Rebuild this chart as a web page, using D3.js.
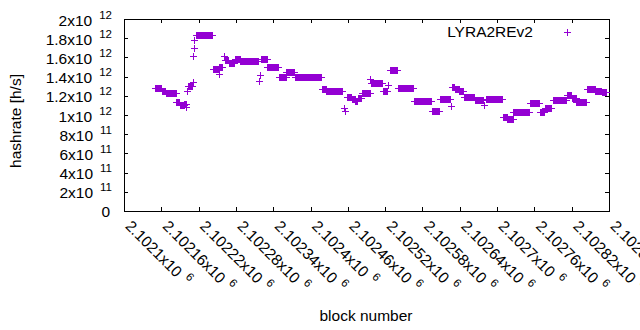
<!DOCTYPE html>
<html>
<head>
<meta charset="utf-8">
<script src="https://cdn.jsdelivr.net/npm/d3@7"></script>
<style>
  body { margin: 0; background: #fff; }
  svg { display: block; font-family: "Liberation Sans", Arial, sans-serif; }
</style>
</head>
<body>
<script>
// Series name shown in the key
const seriesName = "LYRA2REv2";

// Hashrate runs: every block from runStart to runEnd reports runRate (x 10^12 h/s)
const runStart = [2102151, 2102162, 2102168, 2102185, 2102191, 2102198, 2102201, 2102202, 2102203, 2102211,
  2102212, 2102213, 2102214, 2102217, 2102244, 2102253, 2102254, 2102261, 2102263, 2102269,
  2102279, 2102288, 2102318, 2102320, 2102321, 2102331, 2102350, 2102362, 2102376, 2102380,
  2102419, 2102426, 2102454, 2102456, 2102459, 2102467, 2102473, 2102477, 2102484, 2102497,
  2102498, 2102517, 2102526, 2102528, 2102541, 2102567, 2102596, 2102609, 2102627, 2102628,
  2102633, 2102640, 2102647, 2102665, 2102679, 2102683, 2102710, 2102717, 2102727, 2102753,
  2102770, 2102778, 2102790, 2102813, 2102821, 2102828, 2102845, 2102859, 2102869];
const runEnd = [2102161, 2102167, 2102184, 2102190, 2102197, 2102200, 2102201, 2102202, 2102210, 2102211,
  2102212, 2102213, 2102214, 2102243, 2102252, 2102253, 2102259, 2102261, 2102268, 2102278,
  2102287, 2102316, 2102318, 2102320, 2102330, 2102348, 2102361, 2102375, 2102379, 2102418,
  2102425, 2102451, 2102454, 2102456, 2102466, 2102472, 2102476, 2102482, 2102496, 2102497,
  2102516, 2102524, 2102526, 2102540, 2102566, 2102595, 2102608, 2102625, 2102627, 2102632,
  2102639, 2102646, 2102664, 2102678, 2102679, 2102709, 2102716, 2102726, 2102752, 2102769,
  2102777, 2102787, 2102812, 2102820, 2102827, 2102844, 2102858, 2102868, 2102876];
const runRate = [1.28, 1.25, 1.22, 1.13, 1.10, 1.11, 1.08, 1.25, 1.30, 1.34,
  1.61, 1.69, 1.78, 1.83, 1.47, 1.42, 1.50, 1.61, 1.57, 1.54,
  1.58, 1.56, 1.35, 1.41, 1.58, 1.49, 1.39, 1.44, 1.39, 1.39,
  1.265, 1.25, 1.07, 1.035, 1.18, 1.16, 1.14, 1.17, 1.22, 1.365,
  1.33, 1.25, 1.31, 1.465, 1.28, 1.14, 1.035, 1.16, 1.09, 1.29,
  1.27, 1.24, 1.185, 1.15, 1.10, 1.165, 0.97, 0.95, 1.025, 1.115,
  1.03, 1.065, 1.155, 1.20, 1.175, 1.13, 1.27, 1.25, 1.23];

// Tick values and their labels
const xTicks = [2102100, 2102160, 2102220, 2102280, 2102340, 2102400, 2102460,
  2102520, 2102580, 2102640, 2102700, 2102760, 2102820, 2102880];
const xTickLabels = ["2.1021", "2.10216", "2.10222", "2.10228", "2.10234", "2.1024", "2.10246",
  "2.10252", "2.10258", "2.10264", "2.1027", "2.10276", "2.10282", "2.10288"];
const yTicks = [0, 2e11, 4e11, 6e11, 8e11, 1e12, 1.2e12, 1.4e12, 1.6e12, 1.8e12, 2e12];
const yTickMantissa = ["0", "2", "4", "6", "8", "1", "1.2", "1.4", "1.6", "1.8", "2"];
const yTickExponent = ["", "11", "11", "11", "11", "12", "12", "12", "12", "12", "12"];

const width = 640, height = 330;
const plotLeft = 124, plotRight = 609, plotTop = 19, plotBottom = 211;
const color = "#9400d3";
const fontSize = 15.5, supSize = 11.5;

const svg = d3.select("body").append("svg")
  .attr("width", width)
  .attr("height", height);

const x = d3.scaleLinear().domain([2102100, 2102880]).range([plotLeft, plotRight]);
const y = d3.scaleLinear().domain([0, 2e12]).range([plotBottom, plotTop]);

// Expand each run into one point per block
const points = [];
runStart.forEach((s, i) => {
  for (let b = s; b <= runEnd[i]; b++) points.push({ block: b, rate: runRate[i] * 1e12 });
});

/**
 * Draws one axis with inward ticks and no labels
 */
function drawAxis(axis, tx, ty) {
  const g = svg.append("g")
    .attr("transform", `translate(${tx},${ty})`)
    .call(axis.tickSizeInner(-4).tickSizeOuter(0).tickFormat(""));
  g.selectAll("path, line").attr("stroke", "#000").attr("shape-rendering", "crispEdges");
  g.selectAll("text").remove();
  return g;
}

const gx = drawAxis(d3.axisBottom(x).tickValues(xTicks), 0, plotBottom);
drawAxis(d3.axisTop(x).tickValues(xTicks), 0, plotTop);
const gy = drawAxis(d3.axisLeft(y).tickValues(yTicks), plotLeft, 0);
drawAxis(d3.axisRight(y).tickValues(yTicks), plotRight, 0);

// y tick labels with superscript exponents
gy.selectAll(".tick").each(function (d, i) {
  const hasExp = yTickExponent[i] !== "";
  const t = d3.select(this).append("text")
    .attr("x", hasExp ? -12 : -14)
    .attr("y", hasExp ? 6 : 5)
    .attr("text-anchor", "end")
    .attr("fill", "#000")
    .attr("font-size", fontSize)
    .text(hasExp ? yTickMantissa[i] + "x10" : yTickMantissa[i]);
  if (hasExp) {
    t.append("tspan")
      .attr("dx", 7)
      .attr("dy", -7)
      .attr("font-size", supSize)
      .text(yTickExponent[i]);
  }
});

// x tick labels, rotated, with superscript exponent
gx.selectAll(".tick").each(function (d, i) {
  const t = d3.select(this).append("text")
    .attr("transform", "translate(0,16) rotate(45)")
    .attr("text-anchor", "start")
    .attr("fill", "#000")
    .attr("font-size", fontSize)
    .text(xTickLabels[i] + "x10");
  t.append("tspan")
    .attr("dx", 6)
    .attr("dy", -7)
    .attr("font-size", supSize)
    .text("6");
});

// Axis titles
svg.append("text")
  .attr("x", 366)
  .attr("y", 321)
  .attr("text-anchor", "middle")
  .attr("font-size", fontSize)
  .text("block number");

svg.append("text")
  .attr("transform", "translate(21,121) rotate(-90)")
  .attr("text-anchor", "middle")
  .attr("font-size", fontSize)
  .text("hashrate [h/s]");

// Points drawn as plus marks
const plus = (px, py) => `M${px - 3.5},${py}H${px + 3.5}M${px},${py - 3.5}V${py + 3.5}`;

svg.append("g")
  .attr("stroke", color)
  .attr("stroke-width", 1)
  .attr("fill", "none")
  .attr("shape-rendering", "crispEdges")
  .selectAll("path")
  .data(points)
  .join("path")
  .attr("d", p => plus(x(p.block), y(p.rate)));

// Key
svg.append("text")
  .attr("x", 533)
  .attr("y", 37)
  .attr("text-anchor", "end")
  .attr("font-size", fontSize)
  .text(seriesName);

svg.append("path")
  .attr("d", plus(567, 32))
  .attr("stroke", color)
  .attr("stroke-width", 1)
  .attr("shape-rendering", "crispEdges");
</script>
</body>
</html>
